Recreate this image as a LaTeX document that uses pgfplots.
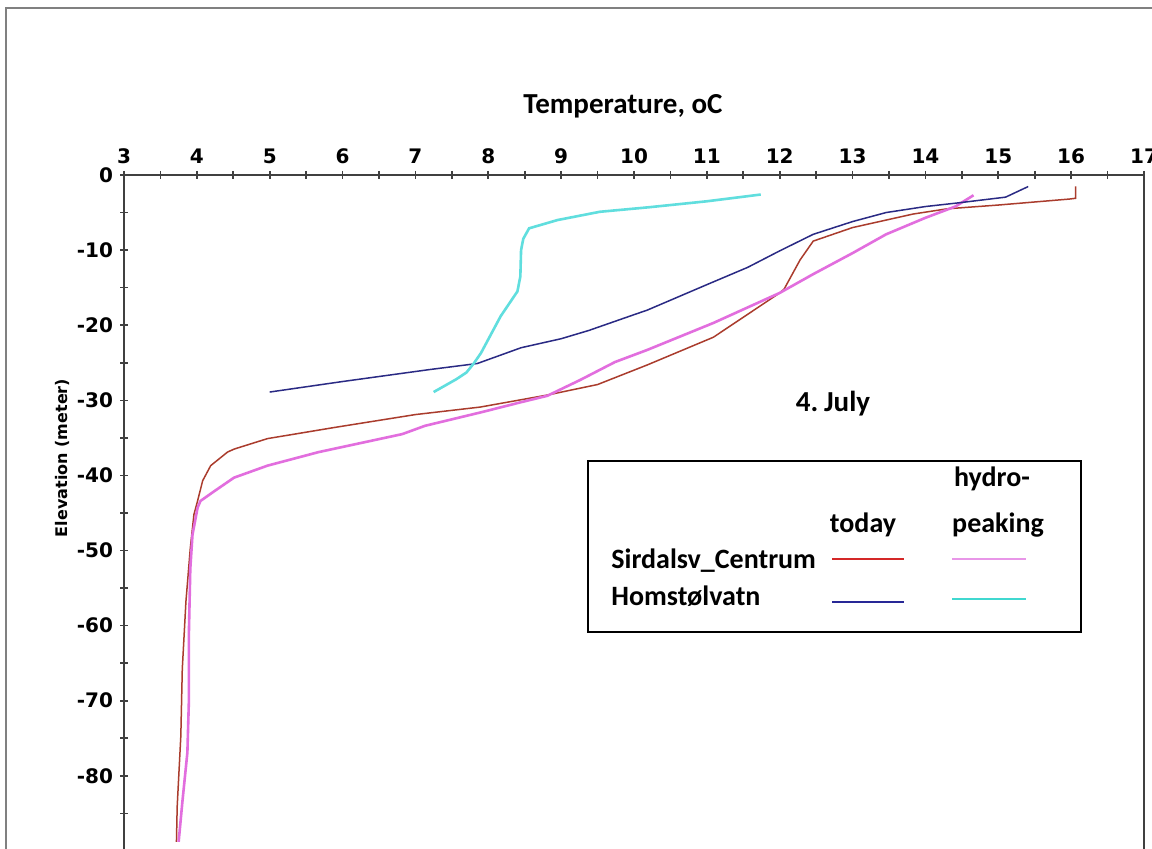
\documentclass[border=0pt]{standalone}
\usepackage{fontspec}
\setmainfont{Carlito}
\newfontfamily\tickfont{DejaVu Sans}
\usepackage{pgfplots}
\pgfplotsset{compat=1.18}
\definecolor{cred}{RGB}{170,60,45}
\definecolor{cpink}{RGB}{226,110,222}
\definecolor{cblue}{RGB}{42,42,132}
\definecolor{ccyan}{RGB}{96,222,222}
\definecolor{lred}{RGB}{212,40,40}
\definecolor{lpink}{RGB}{232,150,232}
\definecolor{lblue}{RGB}{40,40,150}
\definecolor{lcyan}{RGB}{64,216,208}
\definecolor{axgray}{RGB}{64,64,64}

\pgfplotstableread{
T z
3.72 -88.8
3.73 -84.1
3.78 -74.7
3.80 -65.8
3.85 -56.8
3.91 -49.7
3.96 -45.2
4.01 -43.4
4.08 -40.7
4.19 -38.7
4.42 -36.9
4.51 -36.5
4.97 -35.1
5.9 -33.6
7.0 -31.9
7.89 -30.9
8.81 -29.3
9.5 -27.9
10.18 -25.3
11.09 -21.6
12.0 -15.7
12.06 -15.2
12.28 -11.3
12.46 -8.8
13.0 -7.0
13.83 -5.2
14.3 -4.5
15.0 -4.0
15.98 -3.2
16.06 -3.1
16.06 -1.5
}\sirtoday

\pgfplotstableread{
T z
3.75 -88.8
3.80 -83.6
3.87 -76.9
3.89 -70.2
3.89 -61.3
3.91 -52.4
3.94 -47.9
4.01 -44.3
4.05 -43.4
4.24 -42.1
4.51 -40.3
4.97 -38.7
5.67 -36.9
6.82 -34.5
7.13 -33.4
7.9 -31.6
8.43 -30.3
8.81 -29.4
9.26 -27.3
9.74 -24.9
10.18 -23.3
11.09 -19.7
12.0 -15.7
12.46 -13.2
13.0 -10.4
13.46 -7.9
14.0 -5.7
14.41 -4.2
14.66 -2.7
}\sirhydro

\pgfplotstableread{
T z
5.0 -28.9
6.0 -27.5
7.2 -25.9
7.85 -25.1
8.45 -23.0
9.0 -21.8
9.38 -20.7
10.0 -18.6
10.18 -18.0
11.0 -14.6
11.56 -12.3
12.0 -10.1
12.46 -7.9
13.0 -6.2
13.46 -5.0
14.0 -4.2
14.46 -3.7
15.1 -2.95
15.41 -1.54
}\homtoday

\pgfplotstableread{
T z
7.25 -28.9
7.56 -27.2
7.7 -26.3
7.8 -25.1
7.9 -23.7
8.17 -18.8
8.4 -15.5
8.44 -13.5
8.45 -10.0
8.48 -8.5
8.56 -7.1
8.95 -6.0
9.53 -4.9
10.2 -4.3
11.0 -3.5
11.74 -2.6
}\homhydro

\begin{document}
\begin{tikzpicture}
\useasboundingbox (0pt,0pt) rectangle (576pt,424pt);
\clip (0pt,0pt) rectangle (576pt,424pt);
\fill[white] (0pt,0pt) rectangle (576pt,424pt);
\begin{axis}[
  at={(62pt,336.5pt)}, anchor=north west,
  scale only axis, width=510pt, height=375.5pt,
  xmin=3, xmax=17, ymin=-100, ymax=0,
  axis line style={color=axgray, line width=1pt},
  xtick={3,4,...,17}, minor xtick={3.5,4.5,...,16.5},
  ytick={0,-10,...,-80}, minor ytick={-5,-15,...,-95},
  xtick pos=right, xticklabel pos=right, ytick pos=left,
  tick align=center, major tick length=4pt, minor tick length=4pt,
  tick style={color=axgray, line width=0.8pt},
  /pgf/number format/assume math mode=true,
  ticklabel style={font=\tickfont\bfseries\fontsize{10}{11}\selectfont, text=black},
  clip=false,
]
\addplot[cred, line width=0.75pt] table[x=T,y=z] {\sirtoday};
\addplot[cpink, line width=1.3pt] table[x=T,y=z] {\sirhydro};
\addplot[cblue, line width=0.75pt] table[x=T,y=z] {\homtoday};
\addplot[ccyan, line width=1.3pt] table[x=T,y=z] {\homhydro};
\end{axis}
\begin{scope}[x=0.5pt,y=0.5pt]
\draw[gray, line width=1.4pt] (6,-20) -- (6,840) -- (1200,840);
% titles
\node[anchor=base, font=\bfseries\fontsize{14.5}{16}\selectfont] at (623,734) {Temperature, oC};
\node[anchor=base, font=\bfseries\fontsize{14.5}{16}\selectfont] at (833,437) {4.\hspace{0.2em}July};
\node[rotate=90, font=\tickfont\bfseries\fontsize{8}{9}\selectfont] at (62,390) {Elevation (meter)};
% legend box
\draw[black, line width=0.8pt] (588,387) rectangle (1081,216);
\begin{scope}[font=\bfseries\fontsize{14}{16}\selectfont]
\node[anchor=base] at (992,362) {hydro-};
\node[anchor=base] at (863,316) {today};
\node[anchor=base] at (998,316) {peaking};
\node[anchor=base west, inner sep=0pt] at (611,280) {Sirdalsv\_Centrum};
\node[anchor=base west, inner sep=0pt] at (611,243) {Homstølvatn};
\end{scope}
\draw[lred, line width=1.4pt] (832,289) -- (904,289);
\draw[lpink, line width=1.4pt] (952,289) -- (1026,289);
\draw[lblue, line width=1.4pt] (832,246) -- (904,246);
\draw[lcyan, line width=1.4pt] (952,249) -- (1026,249);
\end{scope}
\end{tikzpicture}
\end{document}
